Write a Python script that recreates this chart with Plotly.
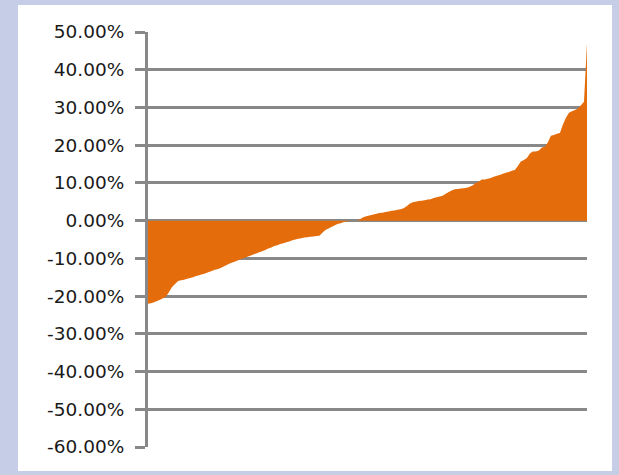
import plotly.graph_objects as go

# Sorted returns (percent), one per rank
returns_pct = [
    -22.0, -21.9, -21.6, -21.3, -21.0, -20.6, -20.1, -18.9, -17.6, -16.8,
    -16.0, -15.8, -15.7, -15.4, -15.2, -15.0, -14.7, -14.5, -14.2, -14.0,
    -13.7, -13.4, -13.1, -12.9, -12.6, -12.2, -11.8, -11.4, -11.1, -10.8,
    -10.5, -10.2, -9.9, -9.6, -9.3, -9.0, -8.7, -8.4, -8.1, -7.8,
    -7.4, -7.1, -6.7, -6.5, -6.2, -6.0, -5.7, -5.5, -5.2, -5.0,
    -4.8, -4.7, -4.5, -4.4, -4.3, -4.2, -4.1, -4.0, -3.2, -2.5,
    -2.1, -1.7, -1.3, -0.9, -0.7, -0.4, -0.25, -0.1, -0.05, 0.0,
    0.1, 0.6, 1.0, 1.2, 1.4, 1.6, 1.8, 2.0, 2.1, 2.3,
    2.4, 2.6, 2.7, 2.9, 3.0, 3.3, 3.8, 4.5, 4.9, 5.0,
    5.2, 5.3, 5.4, 5.6, 5.7, 6.0, 6.2, 6.4, 6.6, 7.1,
    7.6, 8.0, 8.3, 8.4, 8.5, 8.6, 8.7, 9.0, 9.4, 10.0,
    10.3, 10.9, 10.9, 11.1, 11.3, 11.6, 11.9, 12.1, 12.4, 12.7,
    12.9, 13.2, 13.4, 14.5, 15.7, 16.1, 16.6, 17.8, 18.3, 18.3,
    18.6, 19.4, 19.6, 20.8, 22.5, 22.7, 23.0, 23.2, 25.5, 27.3,
    28.6, 29.0, 29.3, 29.7, 30.6, 31.5, 47.0,
]
ranks = list(range(len(returns_pct)))
values = [v / 100 for v in returns_pct]

tick_vals = [0.5, 0.4, 0.3, 0.2, 0.1, 0.0, -0.1, -0.2, -0.3, -0.4, -0.5, -0.6]
tick_text = ["50.00%", "40.00%", "30.00%", "20.00%", "10.00%", "0.00%",
             "-10.00%", "-20.00%", "-30.00%", "-40.00%", "-50.00%", "-60.00%"]

W, H = 619, 475
L, R, T, B = 148, 32, 32, 28
pw, ph = W - L - R, H - T - B

def px_x(p):
    return (p - L) / pw

def px_y(p):
    return (H - B - p) / ph

fig = go.Figure()
fig.add_trace(go.Scatter(
    x=ranks, y=values, mode="none", fill="tozeroy",
    fillcolor="#E46C0A", hoverinfo="skip", showlegend=False,
))

fig.update_layout(
    width=W, height=H,
    margin=dict(l=L, r=R, t=T, b=B, pad=0),
    paper_bgcolor="#C6CEE7",
    plot_bgcolor="white",
    shapes=[dict(
        type="rect", xref="paper", yref="paper", layer="below",
        x0=px_x(18), x1=px_x(612), y0=px_y(471), y1=px_y(5),
        fillcolor="white", line=dict(width=0),
    )],
    xaxis=dict(
        range=[0, len(ranks) - 1], showgrid=False, zeroline=False,
        showticklabels=False, showline=False, ticks="",
    ),
    yaxis=dict(
        range=[-0.6, 0.5], tickvals=tick_vals, ticktext=tick_text,
        showgrid=True, gridcolor="#888888", gridwidth=3,
        zeroline=False,
        showline=True, linecolor="#888888", linewidth=3,
        ticks="outside", ticklen=10, tickwidth=3, tickcolor="#888888",
        ticklabelstandoff=7,
        tickfont=dict(family="DejaVu Sans", size=18.5, color="#1a1a1a"),
    ),
)

fig.write_html("out.html")
